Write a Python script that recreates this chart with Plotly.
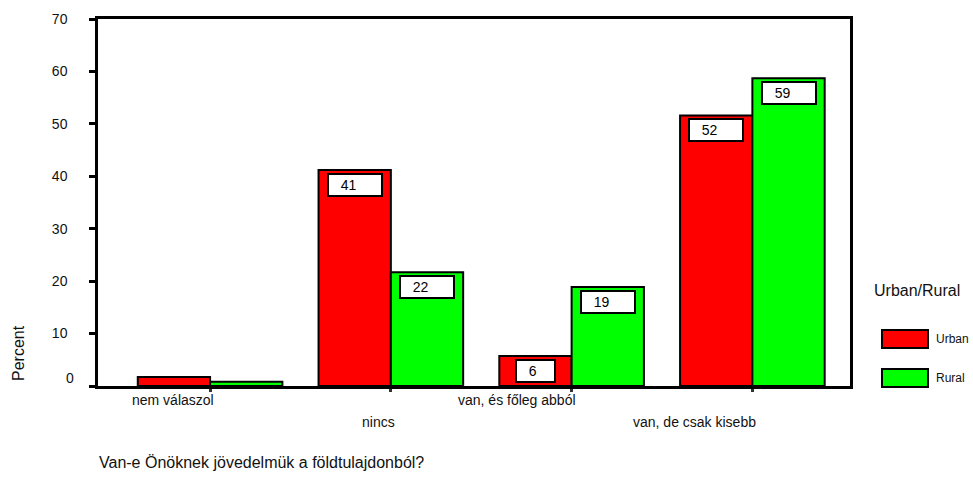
import plotly.graph_objects as go

categories = ["nem válaszol", "nincs", "van, és főleg abból", "van, de csak kisebb"]
urban = [1.7, 41.2, 5.7, 51.6]
rural = [0.8, 21.7, 18.9, 58.7]
labeled = [False, True, True, True]
y_ticks = [0, 10, 20, 30, 40, 50, 60, 70]

FONT = "Liberation Sans, Arial, sans-serif"
TXT = "#111"
W, H = 973, 477
L, R, T, B = 98, 850, 19, 386  # plot area pixels


def px(x):
    return (x - L) / (R - L)


def py(y):
    return (B - y) / (B - T)


xs = list(range(len(categories)))
fig = go.Figure()
fig.add_trace(go.Bar(x=xs, y=urban, name="Urban", marker=dict(color="#FF0000", line=dict(color="black", width=2))))
fig.add_trace(go.Bar(x=xs, y=rural, name="Rural", marker=dict(color="#00FF00", line=dict(color="black", width=2))))

ann = []
# value labels
for i, (u, r) in enumerate(zip(urban, rural)):
    if not labeled[i]:
        continue
    for val, off in ((u, -0.2), (r, 0.2)):
        s = str(int(round(val)))
        ann.append(dict(x=i + off, y=val, xref="x", yref="y", text="&nbsp;&nbsp;&nbsp;" + s,
                        showarrow=False, yanchor="top", xanchor="center", yshift=-3,
                        align="left", width=(52 if len(s) > 1 else 37), height=20,
                        bgcolor="white", bordercolor="black", borderwidth=2, borderpad=0,
                        font=dict(family=FONT, size=14, color="black")))
# category labels (staggered, right-aligned at category)
for i, c in enumerate(categories):
    ann.append(dict(x=i, y=py(400) if i % 2 == 0 else py(422), xref="x", yref="paper", text=c,
                    showarrow=False, xanchor="right", yanchor="middle", xshift=6,
                    font=dict(family=FONT, size=14, color=TXT)))
# zero tick label (raised like in original)
ann.append(dict(x=px(76), y=py(378), xref="paper", yref="paper", text=str(y_ticks[0]), showarrow=False,
                xanchor="right", yanchor="middle", font=dict(family=FONT, size=14, color=TXT)))
# axis titles
ann.append(dict(x=px(18), y=py(353), xref="paper", yref="paper", text="Percent", textangle=-90,
                showarrow=False, xanchor="center", yanchor="middle", font=dict(family=FONT, size=16, color=TXT)))
ann.append(dict(x=px(97), y=py(462), xref="paper", yref="paper", text="Van-e Önöknek jövedelmük a földtulajdonból?",
                showarrow=False, xanchor="left", yanchor="middle", font=dict(family=FONT, size=16, color=TXT)))
# legend
ann.append(dict(x=px(872), y=py(290), xref="paper", yref="paper", text="Urban/Rural", showarrow=False,
                xanchor="left", yanchor="middle", font=dict(family=FONT, size=16, color=TXT)))
shapes = []
for name, color, yc in (("Urban", "#FF0000", 339), ("Rural", "#00FF00", 378)):
    shapes.append(dict(type="rect", xref="paper", yref="paper", x0=px(882), x1=px(928), y0=py(yc - 9), y1=py(yc + 9),
                       fillcolor=color, line=dict(color="black", width=2)))
    ann.append(dict(x=px(934), y=py(yc), xref="paper", yref="paper", text=name, showarrow=False,
                    xanchor="left", yanchor="middle", font=dict(family=FONT, size=12, color=TXT)))

fig.update_layout(
    width=W, height=H, margin=dict(l=L, r=W - R, t=T, b=H - B),
    paper_bgcolor="white", plot_bgcolor="white", showlegend=False,
    barmode="group", bargap=0.2, bargroupgap=0,
    annotations=ann, shapes=shapes,
    xaxis=dict(range=[-0.62, 3.54], tickvals=xs, ticktext=[""] * len(xs), showgrid=False, zeroline=False,
               showline=True, linecolor="black", linewidth=2.5, mirror=True,
               ticks="outside", ticklen=3, tickwidth=3, tickcolor="#333"),
    yaxis=dict(range=[0, 70], tickvals=y_ticks, ticktext=[""] + [str(v) for v in y_ticks[1:]],
               showgrid=False, zeroline=False, showline=True, linecolor="black", linewidth=2.5, mirror=True,
               ticks="outside", ticklen=6, tickwidth=3, tickcolor="black", ticklabelstandoff=19,
               tickfont=dict(family=FONT, size=14, color=TXT)),
)

fig.write_html("out.html", config={"displayModeBar": False},
               post_script="document.body.style.margin='0';document.body.style.overflow='hidden';")
